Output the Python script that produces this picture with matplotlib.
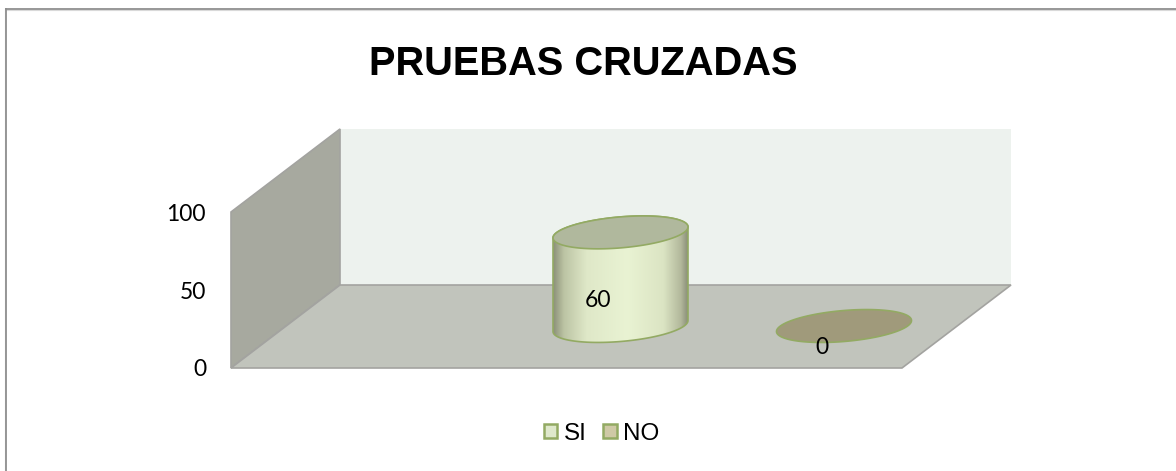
import numpy as np
import matplotlib
matplotlib.use("Agg")
import matplotlib.pyplot as plt
from matplotlib.colors import LinearSegmentedColormap
from matplotlib.lines import Line2D
from matplotlib.patches import Polygon, Patch

categories = ["SI", "NO"]
values = [60, 0]
y_ticks = [0, 50, 100]
title = "PRUEBAS CRUZADAS"

W, H = 1176, 471

# plot box in pixels (front plane of the 3d box)
LEFT, RIGHT, BOTTOM, TOP = 231, 902, 368, 212
DEPTH_X, DEPTH_Y = 109, 83
CAT0_PX, CAT_STEP = 620.5, 223.5  # centre of first cylinder, spacing
BASE_UP = 42  # cylinder base above front edge
RX, SHEAR, RY = 67.5, 5.5, 15.5

fig = plt.figure(figsize=(W / 100, H / 100), dpi=100, facecolor="white")
ax = fig.add_axes([LEFT / W, 1 - BOTTOM / H, (RIGHT - LEFT) / W, (BOTTOM - TOP) / H])
ax.patch.set_alpha(0)
for s in ax.spines.values():
    s.set_visible(False)

xlim = ((LEFT - CAT0_PX) / CAT_STEP, (RIGHT - CAT0_PX) / CAT_STEP)
ylim = (0, 100)
px_x = 1 / CAT_STEP
px_y = 100 / (BOTTOM - TOP)


def border(xs, ys, color, lw):
    fig.add_artist(Line2D([x / W for x in xs], [1 - y / H for y in ys], color=color, lw=lw,
                          transform=fig.transFigure, solid_capstyle="butt"))


# frame only shows on the top and left
border([4.5, 4.5], [8, H], "#d9d9d9", 0.8)
border([5, W], [10, 10], "#d9d9d9", 0.8)
border([6, 6], [8, H], "#8f8f8f", 1.3)
border([5, W], [8.7, 8.7], "#8f8f8f", 1.3)


def wall(points, color, edge="#a3a3a0"):
    xs = [xlim[0] + p[0] * px_x for p in points]
    ys = [p[1] * px_y for p in points]
    ax.add_patch(Polygon(np.column_stack([xs, ys]), closed=True, fc=color, ec=edge, lw=1.2,
                         clip_on=False, joinstyle="miter"))


w = RIGHT - LEFT
h = BOTTOM - TOP
wall([(DEPTH_X, DEPTH_Y), (DEPTH_X + w, DEPTH_Y), (DEPTH_X + w, DEPTH_Y + h), (DEPTH_X, DEPTH_Y + h)],
     "#edf2ee", edge="none")
wall([(0, 0), (DEPTH_X, DEPTH_Y), (DEPTH_X, DEPTH_Y + h), (0, h)], "#a7a99f")
wall([(0, 0), (w, 0), (w + DEPTH_X, DEPTH_Y), (DEPTH_X, DEPTH_Y)], "#c1c4bc")

# body shading, dark at the sides, lightest right of centre
body_cmap = LinearSegmentedColormap.from_list(
    "body",
    [(0, "#8b9079"), (0.08, "#bcc4a4"), (0.25, "#dfe8c8"), (0.55, "#e9f3d3"),
     (0.82, "#dbe4c3"), (0.95, "#b2b89b"), (1, "#8b8f79")])
top_colors = ["#b0b89d", "#a09a7b"]
edge_color = "#93aa63"

t = np.linspace(0, 2 * np.pi, 200)
for i, (cat, val) in enumerate(zip(categories, values)):
    base = BASE_UP * px_y
    ex = i + RX * px_x * np.cos(t)
    ey = (SHEAR * np.cos(t) + RY * np.sin(t)) * px_y
    if val > 0:
        # side outline: lower half of the base ellipse, then straight up to the top ellipse
        c = np.cos(t[:100])
        s = np.sin(t[:100])
        bx = i + RX * px_x * c
        by = base + (SHEAR * c - RY * s) * px_y
        top_y = base + val + (SHEAR * c[::-1] + RY * s[::-1]) * px_y
        body = np.column_stack([np.r_[bx, bx[::-1]], np.r_[by, top_y]])
        poly = Polygon(body, closed=True, fc="none", ec=edge_color, lw=1.2, zorder=3, clip_on=False)
        ax.add_patch(poly)
        im = ax.imshow(np.linspace(0, 1, 256)[None, :], cmap=body_cmap, aspect="auto", zorder=2,
                       extent=(i - RX * px_x, i + RX * px_x, base - 25 * px_y, base + val + 25 * px_y))
        im.set_clip_path(poly)
    ax.add_patch(Polygon(np.column_stack([ex, base + val + ey]), closed=True, fc=top_colors[i],
                         ec=edge_color, lw=1.2, zorder=4, clip_on=False))
    ax.text(i - 22 * px_x, base - 21 * px_y + val / 2, str(val), ha="center", va="center",
            fontsize=16.5, family="Lato", color="black", zorder=5, clip_on=False)

ax.set_xlim(*xlim)
ax.set_ylim(*ylim)
ax.set_xticks([])
ax.set_yticks(y_ticks)
ax.tick_params(axis="y", length=0, pad=18, labelsize=16.5)
for lab in ax.get_yticklabels():
    lab.set_family("Lato")
    lab.set_verticalalignment("center_baseline")

fig.text(583 / W, 1 - 64 / H, title, ha="center", va="center", fontsize=28.7,
         fontweight="bold", family="Liberation Sans", color="black")

handles = [Patch(fc="#dfe8cc", ec="#93aa63", lw=1.8, label=categories[0]),
           Patch(fc="#cfc9a6", ec="#93aa63", lw=1.8, label=categories[1])]
fig.legend(handles=handles, loc="center", bbox_to_anchor=(601.5 / W, 1 - 433.5 / H), ncol=2, frameon=False,
           prop={"family": "Liberation Sans", "size": 17.5}, handlelength=0.55, handleheight=0.55,
           handletextpad=0.25, columnspacing=0.7)

fig.savefig("out.png", dpi=100)
